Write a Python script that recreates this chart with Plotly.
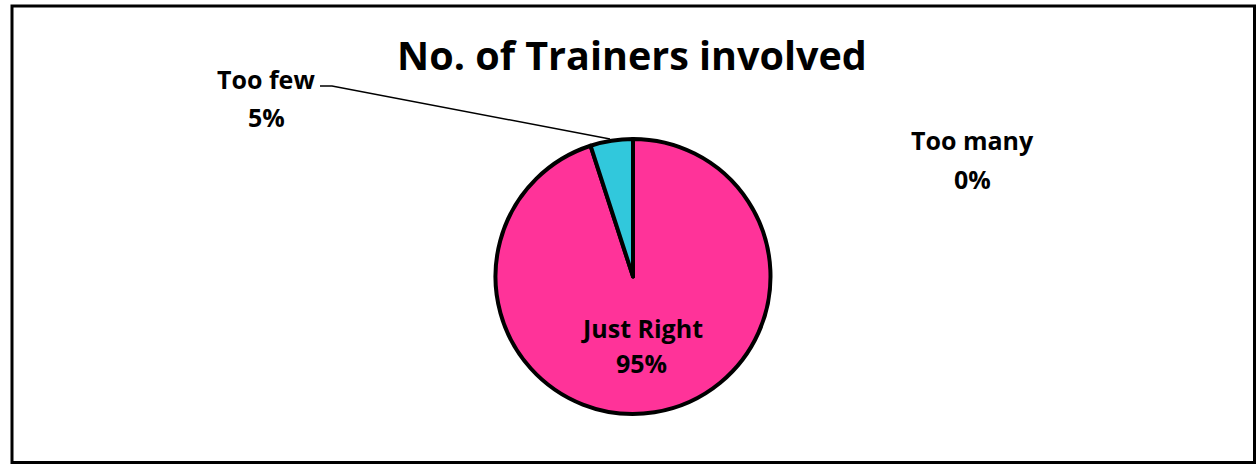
import plotly.graph_objects as go

# data
categorias = ["Just Right", "Too few", "Too many"]
valores = [95, 5, 0]
colores = ["#FF3399", "#31C8DC", "#FFFFFF"]

# label anchor points (pixels): name line, percent line
W, H = 1257, 465
label_pos = {
    "Just Right": ((642, 328), (642, 363)),
    "Too few": ((266, 79), (266, 117)),
    "Too many": ((972, 140), (972, 179)),
}

fig = go.Figure()

fig.add_trace(go.Pie(
    labels=categorias,
    values=valores,
    sort=False,
    direction="clockwise",
    rotation=0,
    marker=dict(colors=colores, line=dict(color="black", width=4)),
    textinfo="none",
    hoverinfo="label+percent",
    domain=dict(x=[495 / W, 771 / W], y=[1 - 414 / H, 1 - 139 / H]),
    showlegend=False,
))

total = sum(valores)
anotaciones = []
for cat, val in zip(categorias, valores):
    textos = [cat, f"{round(val / total * 100)}%"]
    for texto, (px, py) in zip(textos, label_pos[cat]):
        anotaciones.append(dict(
            x=px / W, y=1 - py / H, xref="paper", yref="paper",
            xanchor="center", yanchor="middle",
            text=f"<b>{texto}</b>",
            showarrow=False,
            font=dict(family="Open Sans", size=25, color="black"),
        ))

fig.update_layout(
    width=W, height=H,
    margin=dict(l=0, r=0, t=0, b=0),
    paper_bgcolor="white",
    title=dict(
        text="<b>No. of Trainers involved</b>",
        x=632 / W, xanchor="center", y=1 - 56 / H, yanchor="middle",
        font=dict(family="Open Sans", size=39.5, color="black"),
    ),
    annotations=anotaciones,
    shapes=[
        # chart border
        dict(type="rect", xref="paper", yref="paper",
             x0=12 / W, x1=1254.5 / W, y0=1 - 462.5 / H, y1=1 - 6 / H,
             line=dict(color="black", width=3)),
        # leader line for "Too few"
        dict(type="path", xref="paper", yref="paper",
             path=f"M {320 / W},{1 - 86 / H} L {332 / W},{1 - 86 / H} L {610 / W},{1 - 139 / H}",
             line=dict(color="black", width=1.5)),
    ],
)

fig.write_html("out.html", config={"displayModeBar": False},
               post_script="document.body.style.margin='0';")
